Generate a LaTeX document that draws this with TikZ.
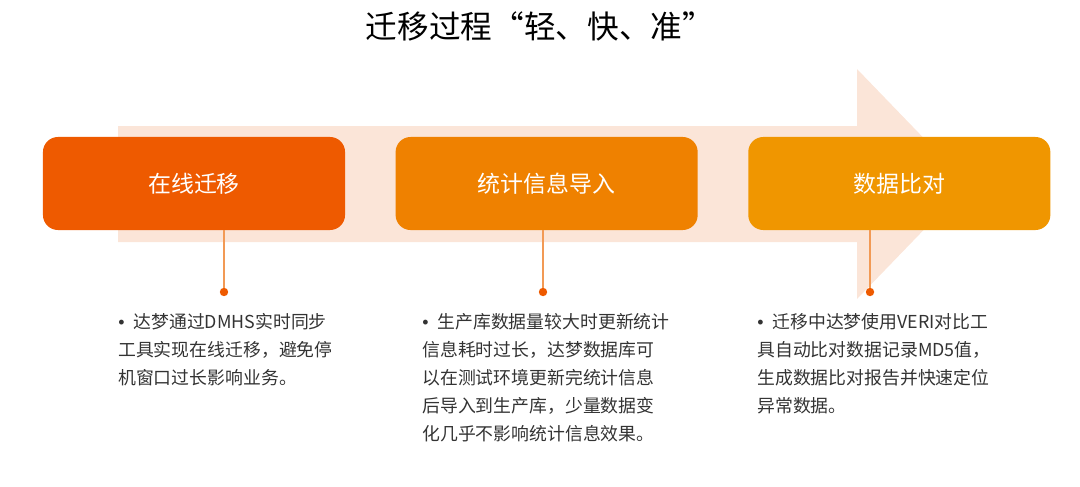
\documentclass[tikz,border=0pt]{standalone}
\usepackage{fontspec}
\setmainfont{Noto Sans CJK SC}
\newfontfamily\bulletfont{Liberation Sans}
\usepackage{tikz}
\usetikzlibrary{positioning}

\definecolor{bandpeach}{HTML}{FBE5D8}
\definecolor{stageA}{HTML}{EE5A00}
\definecolor{stageB}{HTML}{EF8100}
\definecolor{stageC}{HTML}{F09600}
\definecolor{stemorange}{HTML}{F29A55}
\definecolor{beadred}{HTML}{EE5A00}
\definecolor{notegray}{HTML}{333333}

\newcommand{\notebullet}{{\bulletfont •}\hspace{0.5em}}

\begin{document}
\begin{tikzpicture}[
    x=0.025cm, y=-0.025cm,
    stage/.style={rectangle, rounded corners=0.375cm, minimum width=7.55cm, minimum height=2.325cm, inner sep=0pt, text=white, font=\fontsize{16.3}{20}\selectfont},
    bead/.style={circle, fill=beadred, minimum size=0.21cm, inner sep=0pt},
    stemline/.style={draw=stemorange, line width=0.8pt},
    note/.style={anchor=north west, align=left, inner sep=0pt, text=notegray, font=\fontsize{12.7}{19.9}\selectfont}
]
    \useasboundingbox (0,0) rectangle (1080,487);

    % Title
    \node[font=\fontsize{22.5}{27}\selectfont] (title) at (540,26) {迁移过程“轻、快、准”};

    % Background arrow
    \fill[bandpeach] (118,126) -- (857,126) -- (857,69) -- (968,184) -- (857,299) -- (857,242) -- (118,242) -- cycle;

    % Stages
    \node[stage, fill=stageA] (online) at (194,183.5) {在线迁移};
    \node[stage, fill=stageB, right=1.25cm of online] (stats) {统计信息导入};
    \node[stage, fill=stageC, right=1.25cm of stats] (verify) {数据比对};

    % Beads
    \node[bead] (b1) at (224,292) {};
    \node[bead] (b2) at (543,292) {};
    \node[bead] (b3) at (870,292) {};

    % Stems
    \draw[stemline] (b1 |- online.south) -- (b1.north);
    \draw[stemline] (b2 |- stats.south) -- (b2.north);
    \draw[stemline] (b3 |- verify.south) -- (b3.north);

    % Notes
    \node[note] (n1) at (118,313) {\notebullet 达梦通过DMHS实时同步\\工具实现在线迁移，避免停\\机窗口过长影响业务。};
    \node[note] (n2) at (422,313) {\notebullet 生产库数据量较大时更新统计\\信息耗时过长，达梦数据库可\\以在测试环境更新完统计信息\\后导入到生产库，少量数据变\\化几乎不影响统计信息效果。};
    \node[note] (n3) at (757,313) {\notebullet 迁移中达梦使用VERI对比工\\具自动比对数据记录MD5值，\\生成数据比对报告并快速定位\\异常数据。};

\end{tikzpicture}
\end{document}
